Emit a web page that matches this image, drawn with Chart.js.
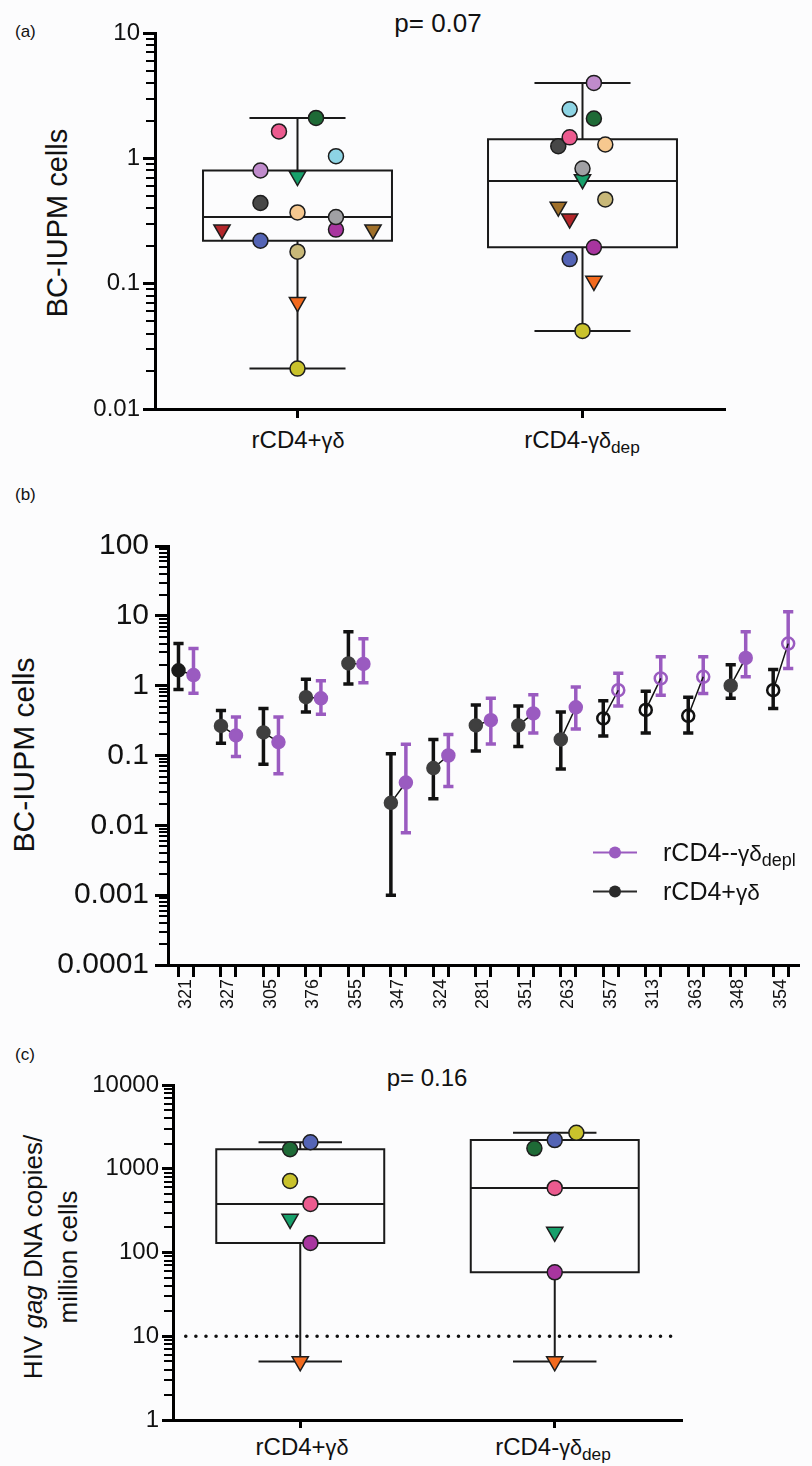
<!DOCTYPE html>
<html>
<head>
<meta charset="utf-8">
<script src="https://cdn.jsdelivr.net/npm/chart.js"></script>
<style>
  html, body { margin: 0; padding: 0; background: #fcfcfd; }
  body { width: 812px; height: 1466px; position: relative; overflow: hidden;
         font-family: "Liberation Sans", Arial, Helvetica, sans-serif; color: #111; }
  canvas { position: absolute; left: 0; }
  .txt { position: absolute; white-space: nowrap; line-height: 1; }
  .ctr { transform: translate(-50%, -50%); }
  .rot { transform: translate(-50%, -50%) rotate(-90deg); text-align: center; }
  .gd { font-size: 0.9em; }
  sub { font-size: 0.72em; vertical-align: -0.28em; line-height: 0; }
  .leg { position: absolute; display: flex; align-items: center; transform: translateY(-50%); font-size: 25px; }
  .mk { display: inline-block; width: 44px; height: 2px; position: relative; margin-right: 26px; }
  .mk::after { content: ""; position: absolute; left: 16px; top: -5px; width: 12px; height: 12px; border-radius: 50%; background: inherit; }
</style>
</head>
<body>

<div class="txt" style="left:15px;top:23px;font-size:17px">(a)</div>
<div class="txt ctr" style="left:438px;top:23px;font-size:26px">p= 0.07</div>
<div class="txt rot" style="left:57px;top:223px;font-size:29px">BC-IUPM cells</div>
<div class="txt ctr" style="left:298px;top:440px;font-size:24px">rCD4+<span class="gd">γδ</span></div>
<div class="txt ctr" style="left:582px;top:440px;font-size:24px">rCD4-<span class="gd">γδ</span><sub>dep</sub></div>
<canvas id="chartA" width="812" height="465" style="top:0"></canvas>

<div class="txt" style="left:15px;top:486px;font-size:17px">(b)</div>
<div class="txt rot" style="left:24px;top:755px;font-size:30px">BC-IUPM cells</div>
<canvas id="chartB" width="812" height="575" style="top:465px"></canvas>
<div class="leg" style="left:593px;top:852px"><span class="mk" style="background:#9a5bc0"></span><span>rCD4--<span class="gd">γδ</span><sub>depl</sub></span></div>
<div class="leg" style="left:593px;top:891px"><span class="mk" style="background:#2a2a2a"></span><span>rCD4+<span class="gd">γδ</span></span></div>

<div class="txt" style="left:15px;top:1046px;font-size:17px">(c)</div>
<div class="txt ctr" style="left:427px;top:1078px;font-size:24px">p= 0.16</div>
<div class="txt rot" style="left:51px;top:1257px;font-size:26px;line-height:35px">HIV <i>gag</i> DNA copies/<br>million cells</div>
<div class="txt ctr" style="left:302px;top:1447px;font-size:24px">rCD4+<span class="gd">γδ</span></div>
<div class="txt ctr" style="left:553px;top:1447px;font-size:24px">rCD4-<span class="gd">γδ</span><sub>dep</sub></div>
<canvas id="chartC" width="812" height="426" style="top:1040px"></canvas>

<script>
/* ---------------------------
   Data: panel (a)
---------------------------- */
const aPlusVals   = [2.1, 1.64, 1.04, 0.80, 0.72, 0.44, 0.37, 0.27, 0.34, 0.27, 0.27, 0.22, 0.18, 0.071, 0.021];
const aPlusDonors = ["dkgreen", "pink", "ltblue", "lavender", "greenTri", "dkgray", "peach", "purple", "gray", "redTri", "brownTri", "blue", "khaki", "orangeTri", "yellow"];
const aPlusJitter = [0.13, -0.13, 0.27, -0.26, 0, -0.26, 0, 0.27, 0.27, -0.53, 0.53, -0.26, 0, 0, 0];
const aPlusBox    = [0.021, 0.22, 0.34, 0.80, 2.1];   // min, q1, median, q3, max

const aDepVals    = [4.0, 2.46, 2.08, 1.25, 1.47, 1.29, 0.68, 0.83, 0.47, 0.41, 0.33, 0.195, 0.157, 0.105, 0.042];
const aDepDonors  = ["lavender", "ltblue", "dkgreen", "dkgray", "pink", "peach", "greenTri", "gray", "khaki", "brownTri", "redTri", "purple", "blue", "orangeTri", "yellow"];
const aDepJitter  = [0.08, -0.09, 0.08, -0.17, -0.09, 0.16, 0, 0, 0.16, -0.17, -0.09, 0.08, -0.09, 0.08, 0];
const aDepBox     = [0.042, 0.195, 0.66, 1.42, 4.0];

const aTickVals   = [0.01, 0.1, 1, 10];
const aTickLabels = ["0.01", "0.1", "1", "10"];

/* ---------------------------
   Data: panel (b)
---------------------------- */
const bDonors  = ["321", "327", "305", "376", "355", "347", "324", "281", "351", "263", "357", "313", "363", "348", "354"];
const bPlusMid = [1.66, 0.265, 0.214, 0.685, 2.08, 0.021, 0.066, 0.27, 0.27, 0.17, 0.34, 0.45, 0.37, 1.0, 0.86];
const bPlusLo  = [0.88, 0.15, 0.075, 0.42, 1.06, 0.001, 0.024, 0.116, 0.135, 0.064, 0.19, 0.21, 0.21, 0.66, 0.47];
const bPlusHi  = [4.0, 0.44, 0.47, 1.24, 5.9, 0.106, 0.17, 0.53, 0.51, 0.42, 0.61, 0.83, 0.68, 2.0, 1.7];
const bDepMid  = [1.42, 0.194, 0.156, 0.66, 2.05, 0.041, 0.1, 0.32, 0.40, 0.49, 0.86, 1.27, 1.34, 2.5, 4.0];
const bDepLo   = [0.78, 0.097, 0.055, 0.39, 1.1, 0.0078, 0.036, 0.146, 0.21, 0.24, 0.51, 0.73, 0.77, 1.34, 1.76];
const bDepHi   = [3.4, 0.355, 0.355, 1.18, 4.7, 0.145, 0.2, 0.66, 0.74, 0.96, 1.5, 2.6, 2.6, 5.9, 11.4];
const bOpen    = [0, 0, 0, 0, 0, 0, 0, 0, 0, 0, 1, 1, 1, 0, 1];

const bTickVals   = [0.0001, 0.001, 0.01, 0.1, 1, 10, 100];
const bTickLabels = ["0.0001", "0.001", "0.01", "0.1", "1", "10", "100"];

/* ---------------------------
   Data: panel (c)
---------------------------- */
const cPlusVals   = [2070, 1710, 714, 380, 251, 130, 5];
const cPlusDonors = ["blue", "dkgreen", "yellow", "pink", "greenTri", "purple", "orangeTri"];
const cPlusJitter = [0.08, -0.08, -0.08, 0.08, -0.08, 0.08, 0];
const cPlusBox    = [5, 130, 380, 1710, 2070];

const cDepVals    = [2690, 2200, 1755, 590, 176, 58, 5];
const cDepDonors  = ["yellow", "blue", "dkgreen", "pink", "greenTri", "purple", "orangeTri"];
const cDepJitter  = [0.17, 0, -0.16, 0, 0, 0, 0];
const cDepBox     = [5, 58, 590, 2200, 2690];

const cLimit      = 10;
const cTickVals   = [1, 10, 100, 1000, 10000];
const cTickLabels = ["1", "10", "100", "1000", "10000"];

/* ---------------------------
   Styles
---------------------------- */
const DONOR_STYLE = {
    dkgreen:   { c: "#1e6a36" },
    pink:      { c: "#ec5b8f" },
    ltblue:    { c: "#8dd4e4" },
    lavender:  { c: "#c08bcc" },
    greenTri:  { c: "#17a06b", tri: true },
    dkgray:    { c: "#474747" },
    peach:     { c: "#f6c88f" },
    gray:      { c: "#a0a0a4" },
    redTri:    { c: "#b3262a", tri: true },
    purple:    { c: "#a8359f" },
    brownTri:  { c: "#a0702a", tri: true },
    blue:      { c: "#5464b5" },
    khaki:     { c: "#c8b878" },
    orangeTri: { c: "#f26a1e", tri: true },
    yellow:    { c: "#c9c22c" }
};
const PURPLE = "#9a5bc0";
const BLACK = "#111";
const CLEAR = "rgba(0,0,0,0)";

Chart.defaults.font.family = '"Liberation Sans", Arial, Helvetica, sans-serif';
Chart.defaults.color = "#111";
Chart.defaults.animation = false;
Chart.defaults.plugins.legend.display = false;
Chart.defaults.plugins.tooltip.enabled = false;

/* ---------------------------
   Helpers
---------------------------- */
const isDecade = v => Math.abs(Math.log10(v) - Math.round(Math.log10(v))) < 1e-6;

// short minor ticks (2..9 of each decade), placed with the y scale
const minorTicks = {
    id: "minorTicks",
    afterDraw(chart) {
        const s = chart.scales.y;
        const ctx = chart.ctx;
        const x = chart.chartArea.left - 1;
        const lo = Math.round(Math.log10(s.min));
        const hi = Math.round(Math.log10(s.max));
        ctx.save();
        ctx.fillStyle = "#000";
        for (let e = lo; e < hi; e++) {
            for (let k = 2; k <= 9; k++) {
                const y = s.getPixelForValue(k * Math.pow(10, e));
                ctx.fillRect(x - 8, Math.round(y) - 1, 8, 2);
            }
        }
        ctx.restore();
    }
};

// labelled log axis: long ticks on decades only
function logAxis(min, max, vals, labels, fontSize, tickLen, pad, width) {
    return {
        type: "logarithmic", min, max,
        afterFit: s => { s.width = width; },
        border: { display: true, color: "#000", width: 3 },
        grid: {
            drawOnChartArea: false, tickLength: tickLen, tickWidth: 3,
            tickColor: c => isDecade(c.tick.value) ? "#000" : CLEAR
        },
        ticks: {
            autoSkip: false, padding: pad, color: "#111", font: { size: fontSize },
            callback: v => {
                const i = vals.findIndex(t => Math.abs(t - v) / t < 1e-6);
                return i >= 0 ? labels[i] : "";
            }
        }
    };
}

function groupAxis(min, max, tickVals, height, tickLen) {
    return {
        type: "linear", min, max, bounds: "data",
        afterBuildTicks: s => { s.ticks = tickVals.map(v => ({ value: v })); },
        afterFit: s => { s.height = height; },
        border: { display: true, color: "#000", width: 3 },
        grid: { drawOnChartArea: false, tickLength: tickLen, tickWidth: 3, tickColor: "#000" },
        ticks: { autoSkip: false, callback: () => "" }
    };
}

// box, median, whiskers and caps as one broken line
function boxLines(cx, s, hw, cw) {
    const [lo, q1, md, q3, hi] = s;
    const gap = { x: cx, y: null };
    return [
        { x: cx - hw, y: q1 }, { x: cx + hw, y: q1 }, { x: cx + hw, y: q3 }, { x: cx - hw, y: q3 }, { x: cx - hw, y: q1 }, gap,
        { x: cx - hw, y: md }, { x: cx + hw, y: md }, gap,
        { x: cx, y: q3 }, { x: cx, y: hi }, gap, { x: cx - cw, y: hi }, { x: cx + cw, y: hi }, gap,
        { x: cx, y: q1 }, { x: cx, y: lo }, gap, { x: cx - cw, y: lo }, { x: cx + cw, y: lo }
    ];
}

function lineSet(data, color, width, order, extra) {
    return Object.assign({
        type: "scatter", data, showLine: true, spanGaps: false,
        borderColor: color, borderWidth: width, pointRadius: 0,
        borderCapStyle: "square", borderJoinStyle: "miter", order, clip: false
    }, extra || {});
}

function donorPoints(cx, vals, jit, donors, r) {
    const st = donors.map(d => DONOR_STYLE[d]);
    return {
        type: "scatter", order: 0, clip: false,
        data: vals.map((v, i) => ({ x: cx + jit[i], y: v })),
        pointStyle: st.map(s => s.tri ? "triangle" : "circle"),
        pointRotation: st.map(s => s.tri ? 180 : 0),
        pointRadius: st.map(s => s.tri ? r * 1.25 : r),
        pointBackgroundColor: st.map(s => s.c),
        pointBorderColor: "#1d1d1d",
        pointBorderWidth: 1.5
    };
}

function errorBars(xs, lo, hi, cap) {
    const out = [];
    xs.forEach((x, i) => {
        out.push({ x, y: lo[i] }, { x, y: hi[i] }, { x, y: null },
                 { x: x - cap, y: lo[i] }, { x: x + cap, y: lo[i] }, { x, y: null },
                 { x: x - cap, y: hi[i] }, { x: x + cap, y: hi[i] }, { x, y: null });
    });
    return out;
}

/* ---------------------------
   Panel (a)
---------------------------- */
new Chart(document.getElementById("chartA"), {
    type: "scatter",
    data: {
        datasets: [
            donorPoints(1, aPlusVals, aPlusJitter, aPlusDonors, 7.5),
            donorPoints(3, aDepVals, aDepJitter, aDepDonors, 7.5),
            lineSet(boxLines(1, aPlusBox, 0.663, 0.33), "#1a1a1a", 2, 2),
            lineSet(boxLines(3, aDepBox, 0.663, 0.33), "#1a1a1a", 2, 2)
        ]
    },
    options: {
        responsive: false,
        layout: { padding: { top: 33, right: 87, left: 0, bottom: 0 } },
        scales: {
            x: groupAxis(0, 4, [1, 3], 56, 9),
            y: logAxis(0.01, 10, aTickVals, aTickLabels, 24, 12, 3, 155)
        }
    },
    plugins: [minorTicks]
});

/* ---------------------------
   Panel (b)
---------------------------- */
const PAIR = 0.353;
const bXPlus = bDonors.map((d, i) => i);
const bXDep = bDonors.map((d, i) => i + PAIR);
const bTickX = [];
bDonors.forEach((d, i) => bTickX.push(i, i + PAIR / 2, i + PAIR));

const bLinks = [];
bDonors.forEach((d, i) => {
    bLinks.push({ x: bXPlus[i], y: bPlusMid[i] }, { x: bXDep[i], y: bDepMid[i] }, { x: bXPlus[i], y: null });
});

new Chart(document.getElementById("chartB"), {
    type: "scatter",
    data: {
        datasets: [
            {
                type: "scatter", order: 0, clip: false,
                data: bPlusMid.map((v, i) => ({ x: bXPlus[i], y: v })),
                pointRadius: 6,
                pointBackgroundColor: bOpen.map((o, i) => o ? CLEAR : (i === 0 ? "#1a1a1a" : "#3f3f3f")),
                pointBorderColor: bOpen.map((o, i) => o ? BLACK : (i === 0 ? "#1a1a1a" : "#3f3f3f")),
                pointBorderWidth: 2.5
            },
            {
                type: "scatter", order: 0, clip: false,
                data: bDepMid.map((v, i) => ({ x: bXDep[i], y: v })),
                pointRadius: 6,
                pointBackgroundColor: bOpen.map(o => o ? CLEAR : PURPLE),
                pointBorderColor: PURPLE,
                pointBorderWidth: 2.5
            },
            lineSet(bLinks, BLACK, 1.5, 1, { borderCapStyle: "butt" }),
            lineSet(errorBars(bXPlus, bPlusLo, bPlusHi, 0.12), BLACK, 3.5, 2, { borderCapStyle: "butt" }),
            lineSet(errorBars(bXDep, bDepLo, bDepHi, 0.12), PURPLE, 3.5, 2, { borderCapStyle: "butt" })
        ]
    },
    options: {
        responsive: false,
        layout: { padding: { top: 81, right: 12, left: 0, bottom: 0 } },
        scales: {
            x: {
                type: "linear", min: -0.247, max: 14.62, bounds: "data",
                afterBuildTicks: s => { s.ticks = bTickX.map(v => ({ value: v })); },
                afterFit: s => { s.height = 75; },
                border: { display: true, color: "#000", width: 3 },
                grid: {
                    drawOnChartArea: false, tickLength: 12, tickWidth: 3,
                    tickColor: c => c.index % 3 === 1 ? CLEAR : "#000"
                },
                ticks: {
                    autoSkip: false, minRotation: 90, maxRotation: 90, padding: 2,
                    font: { size: 18 }, color: "#111",
                    callback: (v, i) => i % 3 === 1 ? bDonors[(i - 1) / 3] : ""
                }
            },
            y: logAxis(0.0001, 100, bTickVals, bTickLabels, 30, 13, 6, 168)
        }
    },
    plugins: [minorTicks]
});

/* ---------------------------
   Panel (c)
---------------------------- */
new Chart(document.getElementById("chartC"), {
    type: "scatter",
    data: {
        datasets: [
            donorPoints(1, cPlusVals, cPlusJitter, cPlusDonors, 7.5),
            donorPoints(3, cDepVals, cDepJitter, cDepDonors, 7.5),
            lineSet(boxLines(1, cPlusBox, 0.66, 0.32), "#1a1a1a", 2, 2),
            lineSet(boxLines(3, cDepBox, 0.66, 0.32), "#1a1a1a", 2, 2),
            lineSet([{ x: 0.1, y: cLimit }, { x: 3.92, y: cLimit }], "#111", 3.5, 3,
                    { borderDash: [0.1, 10], borderCapStyle: "round" })
        ]
    },
    options: {
        responsive: false,
        layout: { padding: { top: 45, right: 130, left: 0, bottom: 0 } },
        scales: {
            x: groupAxis(0, 4, [1, 3], 46, 8),
            y: logAxis(1, 10000, cTickVals, cTickLabels, 24, 11, 3, 173)
        }
    },
    plugins: [minorTicks]
});
</script>
</body>
</html>
